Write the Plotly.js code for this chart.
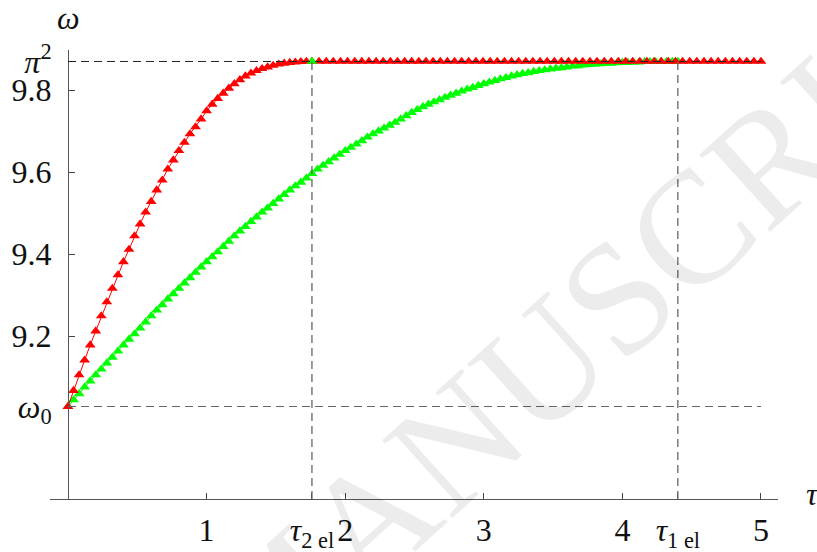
<!DOCTYPE html>
<html>
<head>
<meta charset="utf-8">
<script src="https://cdn.plot.ly/plotly-3.0.1.min.js"></script>
<style>
  html, body { margin: 0; padding: 0; background: #fff; }
  #chart { width: 817px; height: 552px; }
</style>
</head>
<body>
<div id="chart"></div>
<script>
// Characteristic values of the frequency relaxation
const PI2 = 9.8696;      // limiting value pi^2
const omega0 = 9.028;    // initial value omega_0
const tau2el = 1.76;     // relaxation time, case 2
const tau1el = 4.40;     // relaxation time, case 1

// Case 2 (red): rising branch, then the plateau at pi^2
const redRiseT = [0, 0.04, 0.08, 0.12, 0.16, 0.2, 0.24, 0.28, 0.32, 0.36, 0.4, 0.44, 0.48, 0.52, 0.56,
  0.6, 0.64, 0.68, 0.72, 0.76, 0.8, 0.84, 0.88, 0.92, 0.96, 1, 1.04, 1.08, 1.12, 1.16, 1.2, 1.24,
  1.28, 1.32, 1.36, 1.4, 1.44, 1.48, 1.52, 1.56, 1.6, 1.64, 1.68, 1.72, 1.76];
const redRiseW = [9.028, 9.067, 9.105, 9.141, 9.178, 9.212, 9.249, 9.283, 9.316, 9.349, 9.381, 9.411,
  9.444, 9.473, 9.502, 9.528, 9.556, 9.580, 9.607, 9.629, 9.652, 9.672, 9.693, 9.710, 9.729, 9.749,
  9.765, 9.779, 9.792, 9.804, 9.815, 9.825, 9.834, 9.841, 9.847, 9.852, 9.856, 9.860, 9.863, 9.865,
  9.867, 9.868, 9.869, 9.8696, 9.8696];
const redFlatT = [1.811, 1.863, 1.914, 1.966, 2.017, 2.069, 2.120, 2.171, 2.223, 2.274, 2.326, 2.377,
  2.429, 2.480, 2.531, 2.583, 2.634, 2.686, 2.737, 2.789, 2.840, 2.891, 2.943, 2.994, 3.046, 3.097,
  3.149, 3.200, 3.251, 3.303, 3.354, 3.406, 3.457, 3.509, 3.560, 3.611, 3.663, 3.714, 3.766, 3.817,
  3.869, 3.920, 3.971, 4.023, 4.074, 4.126, 4.177, 4.229, 4.280, 4.331, 4.383, 4.434, 4.486, 4.537,
  4.589, 4.640, 4.691, 4.743, 4.794, 4.846, 4.897, 4.949, 5.000];
const redFlatW = redFlatT.map(() => PI2);

// Case 1 (green)
const greenT = [0, 0.04, 0.08, 0.12, 0.16, 0.2, 0.24, 0.28, 0.32, 0.36, 0.4, 0.44, 0.48, 0.52, 0.56,
  0.6, 0.64, 0.68, 0.72, 0.76, 0.8, 0.84, 0.88, 0.92, 0.96, 1, 1.04, 1.08, 1.12, 1.16, 1.2, 1.24,
  1.28, 1.32, 1.36, 1.4, 1.44, 1.48, 1.52, 1.56, 1.6, 1.64, 1.68, 1.72, 1.76, 1.8, 1.84, 1.88, 1.92,
  1.96, 2, 2.04, 2.08, 2.12, 2.16, 2.2, 2.24, 2.28, 2.32, 2.36, 2.4, 2.44, 2.48, 2.52, 2.56, 2.6,
  2.64, 2.68, 2.72, 2.76, 2.8, 2.84, 2.88, 2.92, 2.96, 3, 3.04, 3.08, 3.12, 3.16, 3.2, 3.24, 3.28,
  3.32, 3.36, 3.4, 3.44, 3.48, 3.52, 3.56, 3.6, 3.64, 3.68, 3.72, 3.76, 3.8, 3.84, 3.88, 3.92, 3.96,
  4, 4.04, 4.08, 4.12, 4.16, 4.2, 4.24, 4.28, 4.32, 4.36, 4.4];
const greenW = [9.028, 9.044, 9.059, 9.075, 9.090, 9.105, 9.119, 9.134, 9.148, 9.163, 9.178, 9.192,
  9.205, 9.219, 9.234, 9.249, 9.263, 9.276, 9.290, 9.303, 9.316, 9.329, 9.342, 9.355, 9.368, 9.381,
  9.393, 9.405, 9.418, 9.431, 9.444, 9.456, 9.467, 9.479, 9.490, 9.502, 9.512, 9.523, 9.534, 9.545,
  9.556, 9.566, 9.575, 9.585, 9.596, 9.607, 9.616, 9.625, 9.634, 9.643, 9.652, 9.660, 9.668, 9.676,
  9.685, 9.693, 9.700, 9.707, 9.714, 9.721, 9.729, 9.737, 9.745, 9.752, 9.759, 9.765, 9.771, 9.776,
  9.782, 9.787, 9.792, 9.797, 9.802, 9.806, 9.811, 9.815, 9.819, 9.823, 9.827, 9.830, 9.834, 9.837,
  9.840, 9.842, 9.845, 9.847, 9.849, 9.851, 9.853, 9.854, 9.856, 9.858, 9.859, 9.861, 9.862, 9.863,
  9.864, 9.865, 9.865, 9.866, 9.867, 9.867, 9.868, 9.868, 9.869, 9.869, 9.869, 9.8695, 9.8696,
  9.8696, 9.8696];

// Tick positions and labels
const xTickVals = [1, tau2el, 2, 3, 4, tau1el, 5];
const xTickText = ['1', '<i>τ</i><sub>2 el</sub>', '2', '3', '4', '<i>τ</i><sub>1 el</sub>', '5'];
const yTickVals = [omega0, 9.2, 9.4, 9.6, 9.8, PI2];
const yTickText = ['<i>ω</i><sub>0</sub>', '9.2', '9.4', '9.6', '9.8', '<i>π</i><sup>2</sup>'];

const SERIF = "'Liberation Serif', 'Times New Roman', serif";
const FS = 32;
const RED = '#ff0000';
const GREEN = '#00ff00';
const MSIZE = 9.5;

const traces = [
  {
    x: greenT, y: greenW, type: 'scatter', mode: 'lines+markers', cliponaxis: false,
    line: { color: GREEN, width: 1 },
    marker: { symbol: 'triangle-up', size: MSIZE, color: GREEN },
    hoverinfo: 'x+y'
  },
  {
    x: redRiseT.concat(redFlatT), y: redRiseW.concat(redFlatW), type: 'scatter',
    mode: 'lines+markers', cliponaxis: false,
    line: { color: RED, width: 1 },
    marker: { symbol: 'triangle-up', size: MSIZE, color: RED },
    hoverinfo: 'x+y'
  },
  {
    // end of the case-2 relaxation
    x: [tau2el], y: [PI2], type: 'scatter', mode: 'markers', cliponaxis: false,
    marker: { symbol: 'triangle-up', size: MSIZE, color: GREEN },
    hoverinfo: 'x+y'
  }
];

const dash = '8px,5px';
const yBottom = 8.8024;
const shapes = [
  { type: 'line', xref: 'x', yref: 'y', x0: 0, x1: 5, y0: PI2, y1: PI2,
    line: { color: '#222', width: 1, dash: dash } },
  { type: 'line', xref: 'x', yref: 'y', x0: 0, x1: 5, y0: omega0, y1: omega0,
    line: { color: '#666', width: 1.2, dash: dash } },
  { type: 'line', xref: 'x', yref: 'y', x0: tau2el, x1: tau2el, y0: yBottom, y1: PI2,
    line: { color: '#666', width: 1.3, dash: dash } },
  { type: 'line', xref: 'x', yref: 'y', x0: tau1el, x1: tau1el, y0: yBottom, y1: PI2,
    line: { color: '#666', width: 1.3, dash: dash } }
];

const layout = {
  width: 817, height: 552,
  margin: { l: 50, r: 39, t: 50, b: 53, pad: 0 },
  paper_bgcolor: '#fff', plot_bgcolor: '#fff',
  showlegend: false,
  font: { family: SERIF, size: FS, color: '#111' },
  xaxis: {
    range: [-0.1299, 5.1227], showgrid: false, zeroline: false,
    showline: true, linecolor: '#555', linewidth: 1,
    ticks: 'inside', ticklen: 6, tickwidth: 1, tickcolor: '#444',
    tickvals: xTickVals, ticktext: xTickText, ticklabelstandoff: 3,
    tickfont: { family: SERIF, size: FS, color: '#111' }
  },
  yaxis: {
    range: [yBottom, 9.8976], showgrid: false, zeroline: false,
    anchor: 'free', position: 18 / 728,
    showline: true, linecolor: '#555', linewidth: 1,
    ticks: 'inside', ticklen: 6, tickwidth: 1, tickcolor: '#444',
    tickvals: yTickVals, ticktext: yTickText, ticklabelstandoff: 10,
    tickfont: { family: SERIF, size: FS, color: '#111' }
  },
  shapes: shapes,
  annotations: [
    { text: '<i>ω</i>', xref: 'x', yref: 'paper', x: 0, y: 1.071, showarrow: false,
      xanchor: 'center', yanchor: 'middle', font: { family: SERIF, size: FS, color: '#111' } },
    { text: '<i>τ</i>', xref: 'paper', yref: 'paper', x: 1.047, y: 0.012, showarrow: false,
      xanchor: 'center', yanchor: 'middle', font: { family: SERIF, size: FS, color: '#111' } },
    { text: 'ACCEPTED MANUSCRIPT', xref: 'paper', yref: 'paper', x: 0.318, y: -0.222,
      showarrow: false, textangle: -42, xanchor: 'center', yanchor: 'middle',
      font: { family: SERIF, size: 160, color: 'rgba(0,0,0,0.075)' } }
  ]
};

Plotly.newPlot('chart', traces, layout, { displayModeBar: false, staticPlot: true });
</script>
</body>
</html>
